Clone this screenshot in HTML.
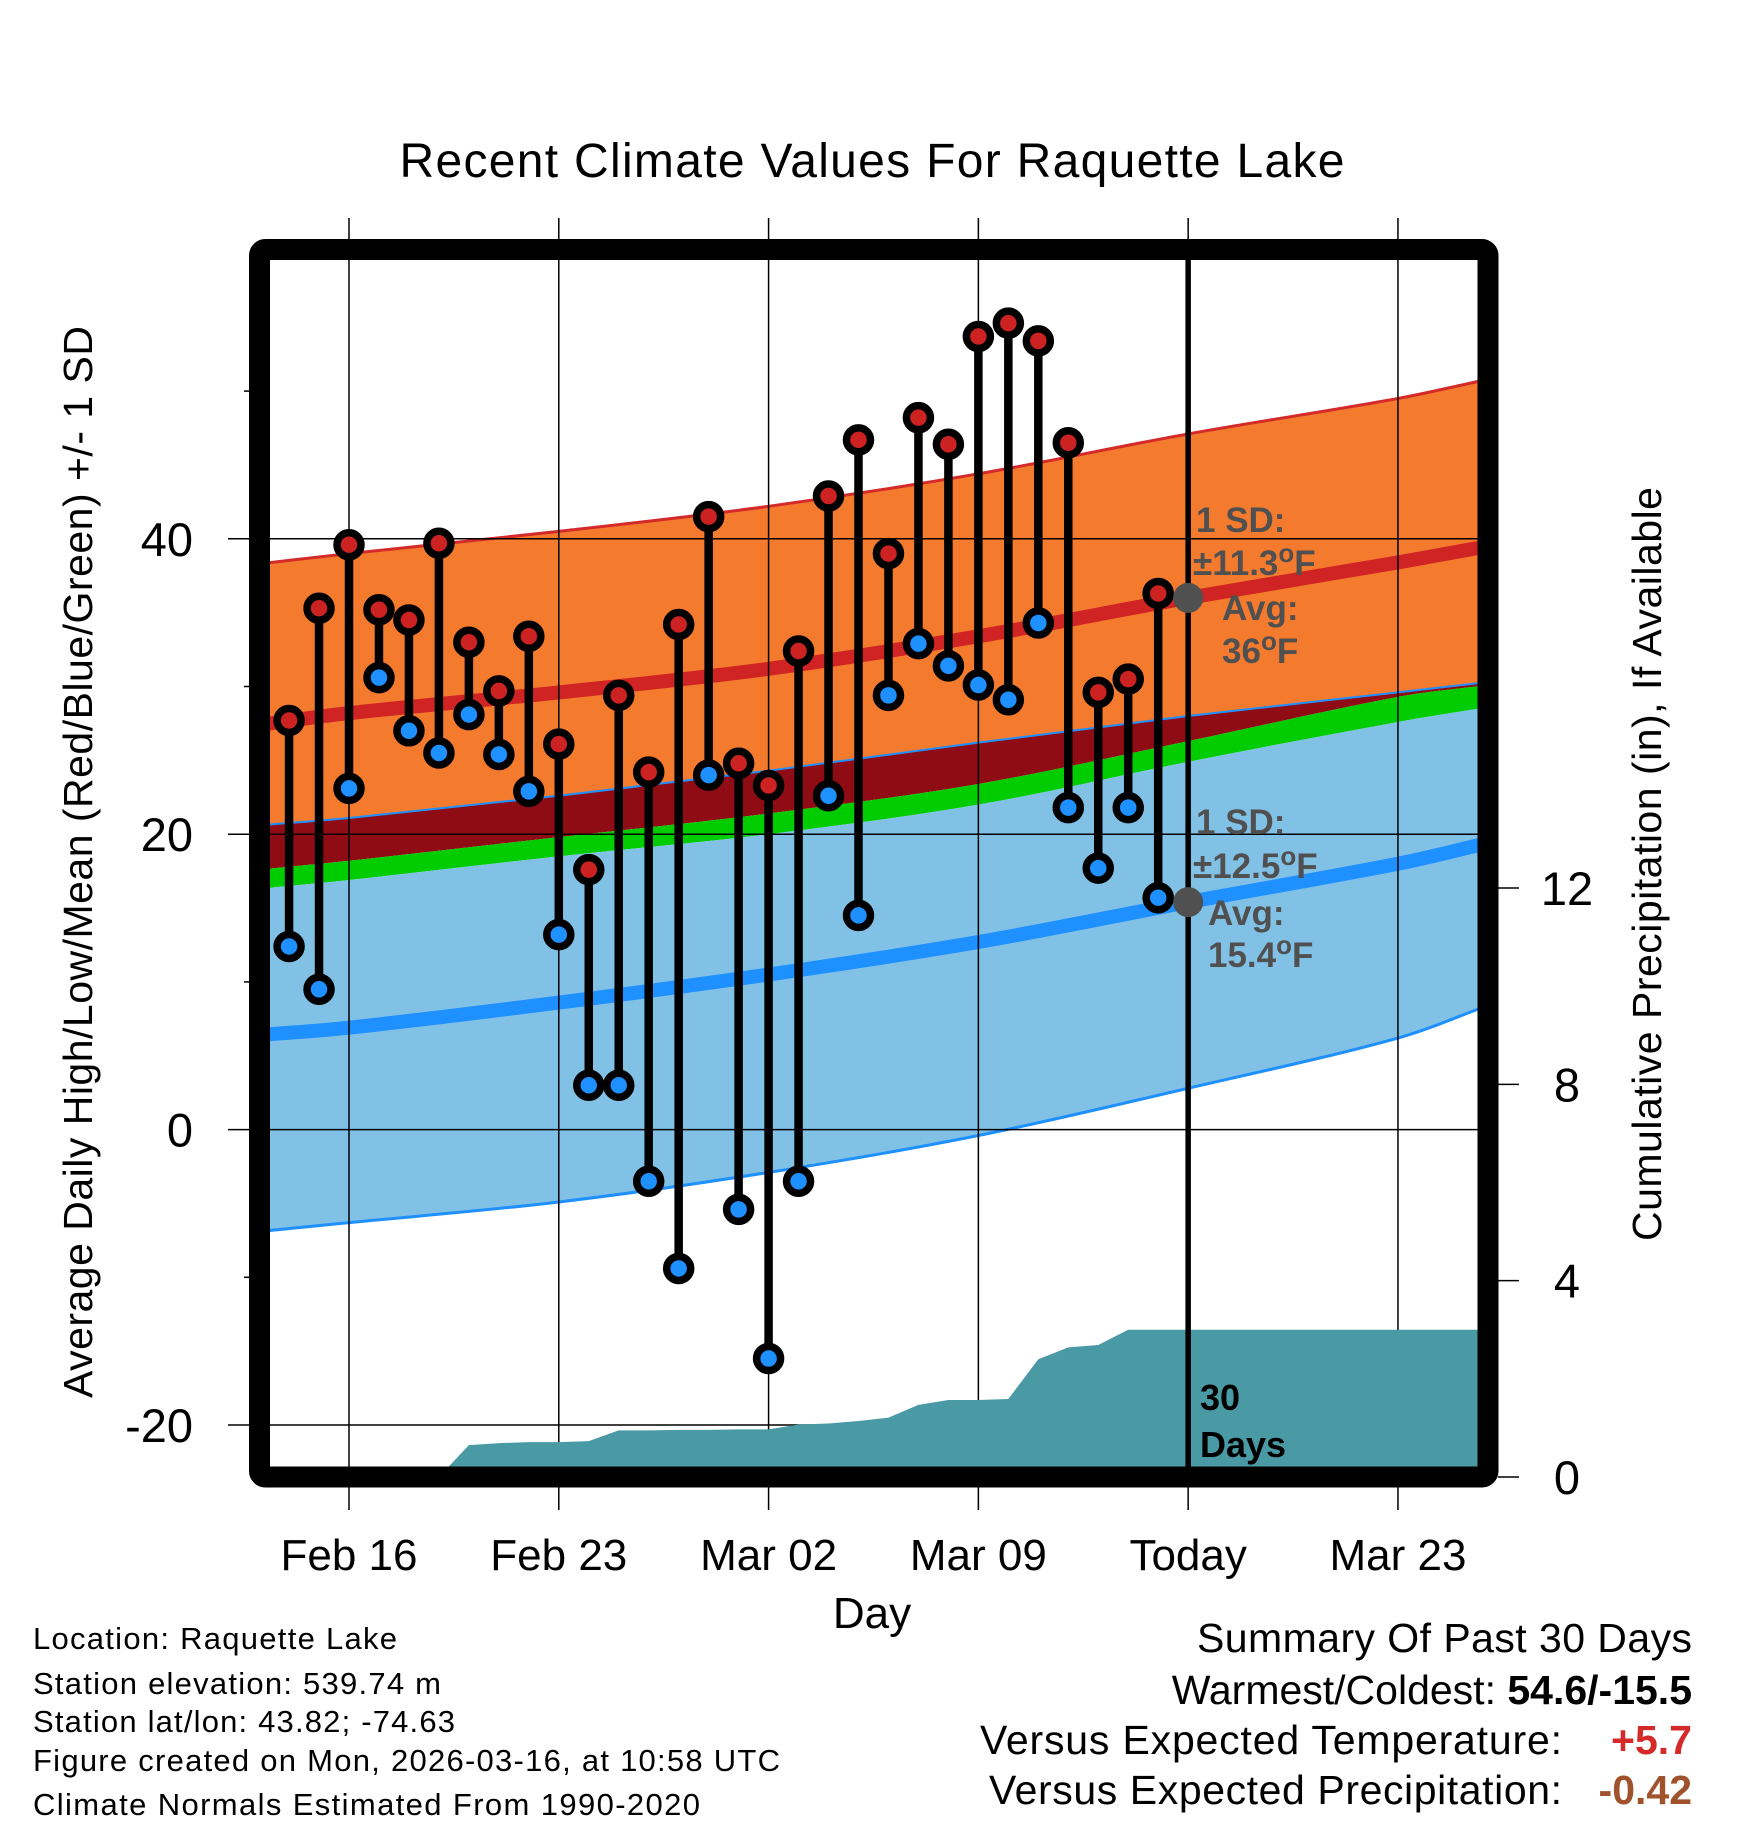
<!DOCTYPE html>
<html><head><meta charset="utf-8"><style>
html,body{margin:0;padding:0;background:#fff;}
svg{display:block;font-family:"Liberation Sans",sans-serif;}
</style></head><body>
<svg id="chart" width="1748" height="1828" viewBox="0 0 1748 1828" xmlns="http://www.w3.org/2000/svg">
<defs><clipPath id="plotclip"><rect x="270" y="260" width="1208" height="1207"/></clipPath></defs>
<rect x="0" y="0" width="1748" height="1828" fill="#fff"/>
<text x="872" y="177" text-anchor="middle" font-size="48" textLength="945">Recent Climate Values For Raquette Lake</text>
<g id="bands" clip-path="url(#plotclip)"></g>
<g id="grid"></g>
<g id="precip" clip-path="url(#plotclip)"></g>
<g id="obs"></g>
<g id="annot"></g>
<rect x="259.5" y="249.5" width="1228.5" height="1227.5" rx="6" fill="none" stroke="#000" stroke-width="21"/>
<g id="axes"></g>
<text transform="translate(92,862) rotate(-90)" text-anchor="middle" font-size="41" textLength="1072">Average Daily High/Low/Mean (Red/Blue/Green) +/- 1 SD</text>
<text transform="translate(1661,864) rotate(-90)" text-anchor="middle" font-size="41" textLength="754">Cumulative Precipitation (in), If Available</text>
<text x="872" y="1628" text-anchor="middle" font-size="44">Day</text>
<g font-size="31">
<text x="33" y="1649" textLength="364">Location: Raquette Lake</text>
<text x="33" y="1694" textLength="408">Station elevation: 539.74 m</text>
<text x="33" y="1732" textLength="422">Station lat/lon: 43.82; -74.63</text>
<text x="33" y="1771" textLength="747">Figure created on Mon, 2026-03-16, at 10:58 UTC</text>
<text x="33" y="1815" textLength="667">Climate Normals Estimated From 1990-2020</text>
</g>
<g font-size="41" text-anchor="end">
<text x="1692" y="1652" textLength="495">Summary Of Past 30 Days</text>
<text x="1692" y="1704">Warmest/Coldest: <tspan font-weight="bold">54.6/-15.5</tspan></text>
<text x="1562" y="1754" textLength="582">Versus Expected Temperature:</text>
<text x="1692" y="1754" fill="#d42a2a" font-weight="bold">+5.7</text>
<text x="1562" y="1804" textLength="573">Versus Expected Precipitation:</text>
<text x="1692" y="1804" fill="#a0522d" font-weight="bold">-0.42</text>
</g>
</svg>
<script>
// ---- data ----
const normalDays = [-3, 0, 7, 14, 21, 28, 35, 38];
const highUpper = [38.3, 39.0, 40.5, 42.2, 44.4, 47.1, 49.5, 50.8];
const highMean = [27.4, 28.2, 29.6, 31.2, 33.4, 36.0, 38.4, 39.5];
const bandTop = [20.6, 21.1, 22.6, 24.3, 26.2, 28.0, 29.6, 30.3];
const greenTop = [17.6, 18.2, 19.8, 21.4, 23.4, 26.3, 29.3, 30.1];
const greenBot = [16.3, 16.9, 18.5, 20.0, 22.0, 24.9, 27.6, 28.6];
const lowMean = [6.4, 6.9, 8.6, 10.5, 12.7, 15.4, 18.0, 19.4];
const lowLower = [-6.9, -6.3, -4.9, -2.9, -0.4, 2.8, 6.2, 8.4];
const obsDays = [-2,-1,0,1,2,3,4,5,6,7,8,9,10,11,12,13,14,15,16,17,18,19,20,21,22,23,24,25,26,27];
const obsHigh = [27.7,35.3,39.6,35.2,34.5,39.7,33.0,29.7,33.4,26.1,17.6,29.4,24.2,34.2,41.5,24.8,23.3,32.4,42.9,46.7,39.0,48.2,46.4,53.7,54.6,53.4,46.5,29.6,30.5,36.3];
const obsLow = [12.4,9.5,23.1,30.6,27.0,25.5,28.1,25.4,22.9,13.2,3.0,3.0,-3.5,-9.4,24.0,-5.4,-15.5,-3.5,22.6,14.5,29.4,32.9,31.4,30.1,29.1,34.3,21.8,17.7,21.8,15.7];
const precipCum = [0,0,0,0,0,0,0.65,0.69,0.71,0.71,0.73,0.95,0.95,0.96,0.96,0.97,0.97,1.07,1.09,1.14,1.21,1.47,1.57,1.57,1.59,2.40,2.64,2.69,3.00,3.00];
const xTickDays = [0, 7, 14, 21, 28, 35];
const xTickLabels = ["Feb 16", "Feb 23", "Mar 02", "Mar 09", "Today", "Mar 23"];
const yTicks = [40, 20, 0, -20];
const yMinor = [50, 30, 10, -10];
const y2Ticks = [0, 4, 8, 12];
const todayDay = 28;
const avgHigh = 36, avgLow = 15.4;

// ---- scales ----
const X = d => 349 + d * 29.97;
const Y = v => 1129.6 - v * 14.77;
const YP = p => 1477 - p * 49.08;
const NS = "http://www.w3.org/2000/svg";
function mk(tag, attrs, parent){const e=document.createElementNS(NS,tag);for(const k in attrs)e.setAttribute(k,attrs[k]);parent.appendChild(e);return e;}
// monotone-x cubic with slope tangents (handles uneven spacing)
function smooth(pts){
  const n = pts.length, m = [];
  for(let i=0;i<n;i++){
    const a = pts[Math.max(0,i-1)], b = pts[Math.min(n-1,i+1)];
    m.push((b[1]-a[1])/(b[0]-a[0]));
  }
  let d = "M" + pts[0][0] + "," + pts[0][1];
  for(let i=0;i<n-1;i++){
    const p1=pts[i], p2=pts[i+1], dx=(p2[0]-p1[0])/3;
    d += " C"+(p1[0]+dx)+","+(p1[1]+m[i]*dx)+" "+(p2[0]-dx)+","+(p2[1]-m[i+1]*dx)+" "+p2[0]+","+p2[1];
  }
  return d;
}
function smoothRev(pts){
  const n = pts.length, m = [];
  for(let i=0;i<n;i++){
    const a = pts[Math.max(0,i-1)], b = pts[Math.min(n-1,i+1)];
    m.push((b[1]-a[1])/(b[0]-a[0]));
  }
  let d = "";
  for(let i=n-1;i>0;i--){
    const p1=pts[i], p2=pts[i-1], dx=(p1[0]-p2[0])/3;
    d += " C"+(p1[0]-dx)+","+(p1[1]-m[i]*dx)+" "+(p2[0]+dx)+","+(p2[1]+m[i-1]*dx)+" "+p2[0]+","+p2[1];
  }
  return d;
}
const pts = arr => normalDays.map((d,i)=>[X(d),Y(arr[i])]);
function band(top, bot){
  const pb = pts(bot);
  return smooth(pts(top)) + " L" + pb[pb.length-1][0] + "," + pb[pb.length-1][1] + smoothRev(pb) + " Z";
}
const bands = document.getElementById('bands');
let e;
e = mk('path',{d:band(highUpper,bandTop),fill:'#f47a2e'},bands);


e = mk('path',{d:band(bandTop,greenTop),fill:'#8f0c14'},bands);


e = mk('path',{d:band(greenTop,greenBot),fill:'#00cc00'},bands);


e = mk('path',{d:band(greenBot,lowLower),fill:'#82c1e6'},bands);


e = mk('path',{d:smooth(pts(highUpper)),fill:'none',stroke:'#d42a2a','stroke-width':3},bands);


e = mk('path',{d:smooth(pts(bandTop)),fill:'none',stroke:'#1e90ff','stroke-width':2},bands);


e = mk('path',{d:smooth(pts(lowLower)),fill:'none',stroke:'#1e90ff','stroke-width':3},bands);


e = mk('path',{d:smooth(pts(highMean)),fill:'none',stroke:'#d02424','stroke-width':14},bands);


e = mk('path',{d:smooth(pts(lowMean)),fill:'none',stroke:'#1e90ff','stroke-width':14},bands);



// grid
const grid = document.getElementById('grid');
xTickDays.forEach(d=>{
  const l = mk('line',{x1:X(d),x2:X(d),y1:218,y2:1510,stroke:'#000','stroke-width':1.5},grid);
  
  
});
yTicks.forEach(v=>{
  const l = mk('line',{x1:228,x2:1478,y1:Y(v),y2:Y(v),stroke:'#000','stroke-width':1.5},grid);
  
  
});

// precip
const pg = document.getElementById('precip');
let pp = [];
obsDays.forEach((d,i)=>pp.push(X(d)+","+YP(precipCum[i])));
pp.push("1478,"+YP(precipCum[precipCum.length-1]));
pp.push("1478,"+YP(0));
pp.push(X(obsDays[0])+","+YP(0));
e = mk('polygon',{points:pp.join(" "),fill:'#4a9aa5'},pg);



// observations
const og = document.getElementById('obs');
obsDays.forEach((d,i)=>{
  const x = X(d);
  const s = mk('line',{x1:x,x2:x,y1:Y(obsHigh[i]),y2:Y(obsLow[i]),stroke:'#000','stroke-width':8.5},og);
  
  
  const h = mk('circle',{cx:x,cy:Y(obsHigh[i]),r:12,fill:'#cc2222',stroke:'#000','stroke-width':7.5},og);
  
  
  const lo = mk('circle',{cx:x,cy:Y(obsLow[i]),r:12,fill:'#1e90ff',stroke:'#000','stroke-width':7.5},og);
  
  
});

// annotations
const an = document.getElementById('annot');
e = mk('line',{x1:X(todayDay),x2:X(todayDay),y1:258,y2:1470,stroke:'#000','stroke-width':5.5},an);


e = mk('circle',{cx:X(todayDay),cy:Y(avgHigh),r:15,fill:'#505050'},an);


e = mk('circle',{cx:X(todayDay),cy:Y(avgLow),r:15,fill:'#505050'},an);


function label(x,y,html,name,size,fill){
  const t = mk('text',{x:x,y:y,'font-size':size,'font-weight':'bold',fill:fill},an);
  t.innerHTML = html;
  
  
}
const deg = '<tspan dy="-13" font-size="26">o</tspan><tspan dy="13">F</tspan>';
label(1196,532,'1 SD:','high-sd-label',35,'#505050');
label(1193,575,'±11.3'+deg,'high-sd-value',35,'#505050');
label(1222,620,'Avg:','high-avg-label',35,'#505050');
label(1222,663,'36'+deg,'high-avg-value',35,'#505050');
label(1196,834,'1 SD:','low-sd-label',35,'#505050');
label(1193,878,'±12.5'+deg,'low-sd-value',35,'#505050');
label(1208,925,'Avg:','low-avg-label',35,'#505050');
label(1208,967,'15.4'+deg,'low-avg-value',35,'#505050');
label(1200,1410,'30','days-count',36,'#000');
label(1200,1457,'Days','days-label',36,'#000');

// axes
const ax = document.getElementById('axes');
xTickDays.forEach((d,i)=>{
  const t = mk('text',{x:X(d),y:1570,'text-anchor':'middle','font-size':44},ax);
  t.textContent = xTickLabels[i];
  
  
});
yTicks.forEach(v=>{
  const t = mk('text',{x:193,y:Y(v)+17,'text-anchor':'end','font-size':47},ax);
  t.textContent = v;
  
  
});
yMinor.forEach(v=>{
  const l = mk('line',{x1:244,x2:252,y1:Y(v),y2:Y(v),stroke:'#000','stroke-width':1.5},ax);
  
  
});
y2Ticks.forEach(p=>{
  const l = mk('line',{x1:1498,x2:1519,y1:YP(p),y2:YP(p),stroke:'#000','stroke-width':1.5},ax);
  
  
  const t = mk('text',{x:1567,y:YP(p)+17,'text-anchor':'middle','font-size':47},ax);
  t.textContent = p;
  
  
});
</script>
</body></html>
